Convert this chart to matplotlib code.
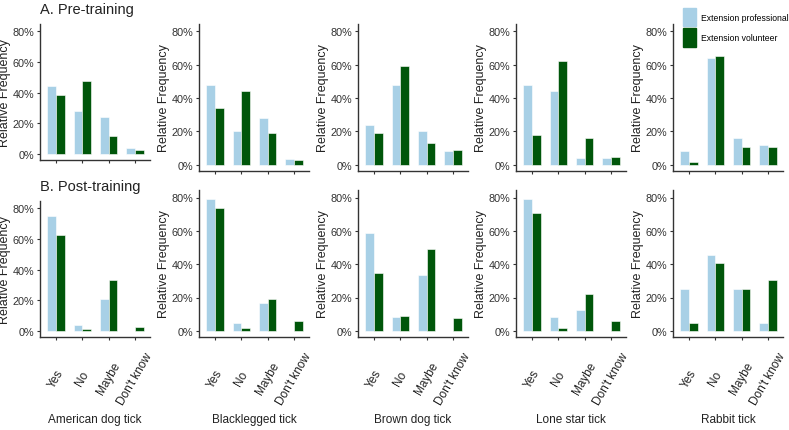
import numpy as np
import matplotlib.pyplot as plt
from matplotlib.patches import Patch
from matplotlib.ticker import PercentFormatter

answers = ["Yes", "No", "Maybe", "Don't know"]
ticks = ["American dog tick", "Blacklegged tick", "Brown dog tick", "Lone star tick", "Rabbit tick"]

# relative frequency (%) per tick species, answers in order Yes/No/Maybe/Don't know
pre_pro = [
    [44, 28, 24, 4],
    [48, 20, 28, 3.6],
    [24, 48, 20, 8],
    [48, 44, 3.8, 3.8],
    [8, 64, 16, 12],
]
pre_vol = [
    [38.5, 47.5, 12, 3],
    [34, 44.5, 19, 2.8],
    [19, 59, 13.2, 9],
    [17.8, 62, 16.2, 4.4],
    [1.5, 65, 10.4, 10.4],
]
post_pro = [
    [75, 4.3, 21, 0],
    [79, 4.5, 17, 0],
    [58.5, 8.5, 33.3, 0],
    [79, 8.5, 12.5, 0],
    [25.3, 45.8, 25.3, 4.5],
]
post_vol = [
    [62.5, 1.5, 33.5, 3],
    [73.5, 1.8, 19, 6.2],
    [34.8, 9, 49.3, 7.5],
    [70.8, 1.8, 22, 6.2],
    [4.5, 40.7, 25, 30.5],
]

plt.rcParams['font.family'] = ['Liberation Sans', 'DejaVu Sans']

c_pro = '#a8d0e6'
c_vol = '#00560a'
W, H = 789, 431
ylo, yhi = -0.037, 0.845


def px_axes(fig, left, top, right, bottom):
    return fig.add_axes([left / W, 1 - bottom / H, (right - left) / W, (bottom - top) / H])


def draw(ax, pro, vol, show_x):
    x = np.arange(len(answers))
    ax.bar(x - 0.165, np.array(pro) / 100, width=0.33, color=c_pro, edgecolor='white', linewidth=0.4)
    ax.bar(x + 0.165, np.array(vol) / 100, width=0.33, color=c_vol, edgecolor='white', linewidth=0.4)
    ax.set_xlim(-0.6, 3.57)
    ax.set_ylim(ylo, yhi)
    ax.set_yticks([0, 0.2, 0.4, 0.6, 0.8])
    ax.yaxis.set_major_formatter(PercentFormatter(1.0, decimals=0))
    ax.set_xticks(x)
    for s in ['top', 'right']:
        ax.spines[s].set_visible(False)
    for s in ['left', 'bottom']:
        ax.spines[s].set_color('#333333')
        ax.spines[s].set_linewidth(1.0)
    ax.tick_params(length=2.5, width=0.8, color='#333333', labelsize=7.8, labelcolor='#333333', pad=1.5)
    if show_x:
        ax.set_xticklabels(answers, rotation=60, ha='center', va='center', rotation_mode='anchor',
                           fontsize=8.5, color='#222222')
        ax.tick_params(axis='x', pad=27)
    else:
        ax.set_xticklabels([])
    ax.set_ylabel('Relative Frequency', fontsize=9, color='#222222', labelpad=1)


fig = plt.figure(figsize=(W / 100, H / 100), dpi=100)
lefts = [40, 199, 358, 516, 673]
for i in range(5):
    l = lefts[i]
    if i == 0:
        ax1 = px_axes(fig, l, 25, l + 110, 161)
        ax2 = px_axes(fig, l, 202, l + 110, 338)
    else:
        ax1 = px_axes(fig, l, 25, l + 110, 172)
        ax2 = px_axes(fig, l, 191, l + 110, 338)
    draw(ax1, pre_pro[i], pre_vol[i], False)
    draw(ax2, post_pro[i], post_vol[i], True)
    fig.text((l + 55) / W, 1 - 420 / H, ticks[i], ha='center', va='center',
             fontsize=8.5, color='#222222')

fig.text(40 / W, 1 - 10 / H, 'A. Pre-training', ha='left', va='center',
         fontsize=10.5, color='#222222')
fig.text(40 / W, 1 - 187 / H, 'B. Post-training', ha='left', va='center',
         fontsize=10.5, color='#222222')

handles = [Patch(color=c_pro, label='Extension professional'),
           Patch(color=c_vol, label='Extension volunteer')]
fig.legend(handles=handles, loc='upper left', bbox_to_anchor=(683 / W, 1 - 9 / H),
           frameon=False, prop={'size': 6.2},
           handlelength=1.55, handleheight=2.9, handletextpad=0.55, labelspacing=0.25,
           borderaxespad=0, borderpad=0)

fig.savefig('out.png', dpi=100)
